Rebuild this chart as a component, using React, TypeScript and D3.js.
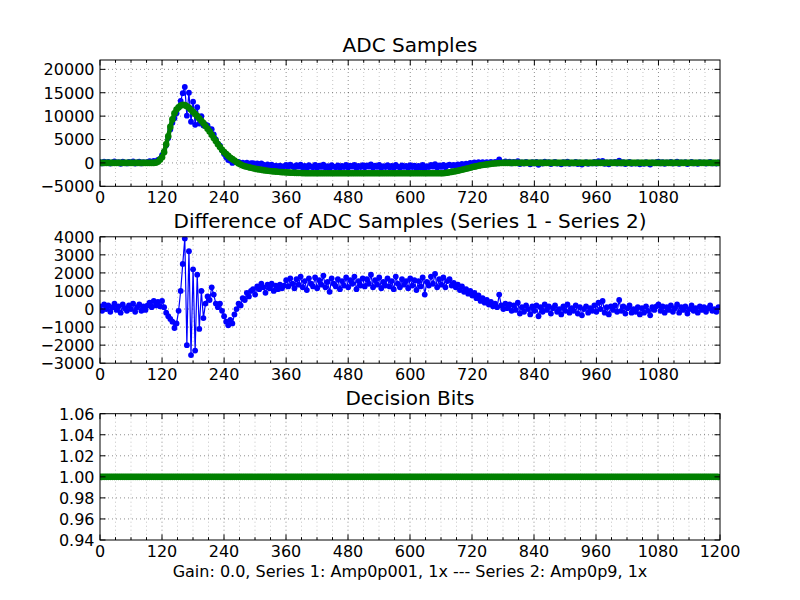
import { useEffect, useRef } from 'react';
import * as d3 from 'd3';

// readings taken off the figure every 4 samples (sample index = i * 4)
const SAMPLE_STEP = 4;

// smooth series (green), ADC counts
const SERIES_2 = [
  0, 0, 0, 0, 0, 0, 0, 0, 0, 0, 0, 0, 0, 0, 0, 0, 0, 0, 0, 0, 0, 0, 0, 0, 0, 0, 0, 60, 250, 700,
  1200, 2300, 4000, 5700, 7700, 9300, 10600, 11400, 11900, 12250, 12400, 12350, 12100, 11800, 11350, 10900, 10450, 10000, 9500, 9000, 8500, 7900, 7300, 6700, 6000, 5300, 4700, 4000, 3400, 2800,
  2300, 1900, 1500, 1100, 800, 500, 200, -100, -350, -550, -700, -830, -950, -1050, -1150, -1250, -1330, -1410, -1480, -1550, -1610, -1670, -1720, -1770, -1820, -1860, -1900, -1940, -1970, -2000,
  -2030, -2060, -2080, -2100, -2120, -2140, -2160, -2170, -2180, -2190, -2200, -2200, -2200, -2200, -2200, -2200, -2200, -2200, -2200, -2200, -2200, -2200, -2200, -2200, -2200, -2200, -2200, -2200, -2200, -2200,
  -2200, -2200, -2200, -2200, -2200, -2200, -2200, -2200, -2200, -2200, -2200, -2200, -2200, -2200, -2200, -2200, -2200, -2200, -2200, -2200, -2200, -2200, -2200, -2200, -2200, -2200, -2200, -2200, -2200, -2200,
  -2200, -2200, -2200, -2200, -2200, -2200, -2200, -2200, -2200, -2200, -2200, -2200, -2200, -2200, -2200, -2200, -2200, -2150, -2080, -2000, -1920, -1850, -1760, -1670, -1570, -1470, -1370, -1250, -1130, -1020,
  -900, -800, -700, -600, -520, -450, -380, -320, -260, -200, -150, -110, -70, -40, -20, 0, 0, 0, 0, 0, 0, 0, 0, 0, 0, 0, 0, 0, 0, 0,
  0, 0, 0, 0, 0, 0, 0, 0, 0, 0, 0, 0, 0, 0, 0, 0, 0, 0, 0, 0, 0, 0, 0, 0, 0, 0, 0, 0, 0, 0,
  0, 0, 0, 0, 0, 0, 0, 0, 0, 0, 0, 0, 0, 0, 0, 0, 0, 0, 0, 0, 0, 0, 0, 0, 0, 0, 0, 0, 0, 0,
  0, 0, 0, 0, 0, 0, 0, 0, 0, 0, 0, 0, 0, 0, 0, 0, 0, 0, 0, 0, 0, 0, 0, 0, 0, 0, 0, 0, 0, 0,
];

// Series 1 - Series 2 (blue, middle panel)
const DIFFERENCE = [
  150, -100, 250, 0, 200, -150, 100, 300, -50, 150, -200, 250, 50, -100, 200, 0, 300, -150, 100, 250, -100, 150, -50, 200, 350, 100, 450, 200, 400, 150,
  450, 100, -200, -400, -550, -700, -1050, -800, -100, 1000, 2500, 3900, -2000, 3200, -2550, 2200, -2300, 1900, -1100, 1000, -500, 300, 700, 500, 1200, 800, 300, 100, 300, -100,
  -400, -700, -900, -600, -800, -300, 0, 300, 200, 600, 500, 900, 700, 1000, 1100, 800, 1250, 1100, 1400, 1200, 900, 1350, 1150, 1400, 1000, 1300, 1100, 1350, 1150, 1300,
  1600, 1250, 1700, 1400, 1150, 1650, 1350, 1800, 1200, 1550, 1050, 1700, 1400, 1250, 1750, 1150, 1600, 1350, 1850, 1200, 1500, 950, 1700, 1400, 1250, 1650, 1100, 1550, 1300, 1750,
  1200, 1600, 1400, 1800, 1100, 1550, 1300, 1700, 1250, 1650, 1400, 1900, 1200, 1600, 1350, 1750, 1150, 1500, 1300, 1700, 1250, 1550, 1100, 1800, 1400, 1200, 1650, 1350, 1550, 1150,
  1700, 1300, 1600, 1050, 1550, 1250, 1750, 800, 1500, 1300, 1800, 1400, 1950, 1200, 1650, 1350, 1750, 1200, 1550, 1650, 1300, 1450, 1200, 1350, 1050, 1250, 950, 1100, 850, 1000,
  750, 900, 600, 750, 450, 600, 350, 500, 250, 400, 150, 300, 100, 800, 200, 0, 300, 50, 250, -100, 200, -50, 350, -250, 100, -150, 200, 0, -300, 150,
  -100, 200, -400, 100, -150, 250, -50, 150, -250, 50, 200, -150, 0, -300, 150, -100, 250, -200, 50, -100, 200, -250, 100, -350, 0, 150, -200, 50, -100, 200,
  -150, 350, 0, 450, -200, 100, -300, 150, -50, 200, -150, 500, -100, 150, -250, 50, 200, -200, 0, -150, 100, -300, 50, -200, 150, -100, -350, 100, -50, 150,
  250, -100, 150, -200, 100, -50, 200, -150, 50, 250, -200, 100, -50, 150, -250, 0, 200, -100, 50, -200, 150, -50, 100, -150, 50, 200, -100, 0, -150, 100,
];

// Series 1 is Series 2 plus the plotted difference
const SERIES_1 = SERIES_2.map((v, i) => v + DIFFERENCE[i]);

const DECISION_BITS = [
  1, 1, 1, 1, 1, 1, 1, 1, 1, 1, 1, 1, 1, 1, 1, 1, 1, 1, 1, 1, 1, 1, 1, 1, 1, 1, 1, 1, 1, 1,
  1, 1, 1, 1, 1, 1, 1, 1, 1, 1, 1, 1, 1, 1, 1, 1, 1, 1, 1, 1, 1, 1, 1, 1, 1, 1, 1, 1, 1, 1,
  1, 1, 1, 1, 1, 1, 1, 1, 1, 1, 1, 1, 1, 1, 1, 1, 1, 1, 1, 1, 1, 1, 1, 1, 1, 1, 1, 1, 1, 1,
  1, 1, 1, 1, 1, 1, 1, 1, 1, 1, 1, 1, 1, 1, 1, 1, 1, 1, 1, 1, 1, 1, 1, 1, 1, 1, 1, 1, 1, 1,
  1, 1, 1, 1, 1, 1, 1, 1, 1, 1, 1, 1, 1, 1, 1, 1, 1, 1, 1, 1, 1, 1, 1, 1, 1, 1, 1, 1, 1, 1,
  1, 1, 1, 1, 1, 1, 1, 1, 1, 1, 1, 1, 1, 1, 1, 1, 1, 1, 1, 1, 1, 1, 1, 1, 1, 1, 1, 1, 1, 1,
  1, 1, 1, 1, 1, 1, 1, 1, 1, 1, 1, 1, 1, 1, 1, 1, 1, 1, 1, 1, 1, 1, 1, 1, 1, 1, 1, 1, 1, 1,
  1, 1, 1, 1, 1, 1, 1, 1, 1, 1, 1, 1, 1, 1, 1, 1, 1, 1, 1, 1, 1, 1, 1, 1, 1, 1, 1, 1, 1, 1,
  1, 1, 1, 1, 1, 1, 1, 1, 1, 1, 1, 1, 1, 1, 1, 1, 1, 1, 1, 1, 1, 1, 1, 1, 1, 1, 1, 1, 1, 1,
  1, 1, 1, 1, 1, 1, 1, 1, 1, 1, 1, 1, 1, 1, 1, 1, 1, 1, 1, 1, 1, 1, 1, 1, 1, 1, 1, 1, 1, 1,
];

const X_TICKS = [0, 120, 240, 360, 480, 600, 720, 840, 960, 1080];
const X_TICKS_BOTTOM = [0, 120, 240, 360, 480, 600, 720, 840, 960, 1080, 1200];
const Y_TICKS_ADC = [-5000, 0, 5000, 10000, 15000, 20000];
const Y_TICKS_DIFF = [-3000, -2000, -1000, 0, 1000, 2000, 3000, 4000];
const Y_TICKS_BITS = [0.94, 0.96, 0.98, 1.0, 1.02, 1.04, 1.06];

const TITLES = ['ADC Samples', 'Difference of ADC Samples (Series 1 - Series 2)', 'Decision Bits'];
const X_LABEL = 'Gain: 0.0, Series 1: Amp0p001, 1x --- Series 2: Amp0p9, 1x';

const FONT = '"DejaVu Sans", sans-serif';
const LEFT = 100;
const RIGHT = 720;

type Series = { values: number[]; color: string; r: number; width: number };

export default function App() {
  const svgRef = useRef<SVGSVGElement>(null);

  useEffect(() => {
    if (!svgRef.current) return;
    const svg = d3.select(svgRef.current);
    svg.selectAll('*').remove();

    const drawPanel = (
      key: string,
      top: number,
      bottom: number,
      xMax: number,
      xTicks: number[],
      yDomain: [number, number],
      yTicks: number[],
      yFormat: (v: number) => string,
      title: string,
      series: Series[]
    ) => {
      const x = d3.scaleLinear().domain([0, xMax]).range([LEFT, RIGHT]);
      const y = d3.scaleLinear().domain(yDomain).range([bottom, top]);
      const g = svg.append('g');

      g.append('clipPath')
        .attr('id', `clip-${key}`)
        .append('rect')
        .attr('x', LEFT)
        .attr('y', top)
        .attr('width', RIGHT - LEFT)
        .attr('height', bottom - top);

      // grid: minor verticals every 30 samples, horizontals at major y ticks
      const minor = d3.range(0, xMax + 1, 30).filter((v) => v > 0 && v < xMax);
      g.selectAll('.vgrid')
        .data(minor)
        .join('line')
        .attr('x1', (d) => x(d))
        .attr('x2', (d) => x(d))
        .attr('y1', top)
        .attr('y2', bottom)
        .attr('stroke', '#000')
        .attr('stroke-opacity', (d) => (d % 120 === 0 ? 0.75 : 0.4))
        .attr('stroke-width', 0.6)
        .attr('stroke-dasharray', '1,3');

      g.selectAll('.hgrid')
        .data(yTicks.filter((v) => v > yDomain[0] && v < yDomain[1]))
        .join('line')
        .attr('x1', LEFT)
        .attr('x2', RIGHT)
        .attr('y1', (d) => y(d))
        .attr('y2', (d) => y(d))
        .attr('stroke', '#000')
        .attr('stroke-opacity', 0.75)
        .attr('stroke-width', 0.6)
        .attr('stroke-dasharray', '1,3');

      // data
      const plot = g.append('g').attr('clip-path', `url(#clip-${key})`);
      series.forEach((s) => {
        const pts = s.values.map((v, i) => [i * SAMPLE_STEP, v] as [number, number]);
        const line = d3
          .line<[number, number]>()
          .x((d) => x(d[0]))
          .y((d) => y(d[1]));
        plot
          .append('path')
          .attr('d', line(pts))
          .attr('fill', 'none')
          .attr('stroke', s.color)
          .attr('stroke-width', s.width)
          .attr('stroke-linejoin', 'round');
        plot
          .append('g')
          .selectAll('circle')
          .data(pts)
          .join('circle')
          .attr('cx', (d) => x(d[0]))
          .attr('cy', (d) => y(d[1]))
          .attr('r', s.r)
          .attr('fill', s.color);
      });

      // ticks, inward on all four sides
      const tickG = g.append('g').attr('stroke', '#000').attr('stroke-width', 1);
      minor
        .filter((v) => v % 120 !== 0)
        .forEach((v) => {
          tickG.append('line').attr('x1', x(v)).attr('x2', x(v)).attr('y1', bottom).attr('y2', bottom - 2.8);
          tickG.append('line').attr('x1', x(v)).attr('x2', x(v)).attr('y1', top).attr('y2', top + 2.8);
        });
      xTicks.forEach((v) => {
        tickG.append('line').attr('x1', x(v)).attr('x2', x(v)).attr('y1', bottom).attr('y2', bottom - 5.5);
        tickG.append('line').attr('x1', x(v)).attr('x2', x(v)).attr('y1', top).attr('y2', top + 5.5);
      });
      yTicks.forEach((v) => {
        tickG.append('line').attr('x1', LEFT).attr('x2', LEFT + 5.5).attr('y1', y(v)).attr('y2', y(v));
        tickG.append('line').attr('x1', RIGHT).attr('x2', RIGHT - 5.5).attr('y1', y(v)).attr('y2', y(v));
      });

      g.append('rect')
        .attr('x', LEFT)
        .attr('y', top)
        .attr('width', RIGHT - LEFT)
        .attr('height', bottom - top)
        .attr('fill', 'none')
        .attr('stroke', '#000')
        .attr('stroke-width', 1);

      // tick labels
      g.selectAll('.xlab')
        .data(xTicks)
        .join('text')
        .attr('x', (d) => x(d))
        .attr('y', bottom + 17)
        .attr('text-anchor', 'middle')
        .style('font-family', FONT)
        .style('font-size', '16px')
        .text((d) => String(d));

      g.selectAll('.ylab')
        .data(yTicks)
        .join('text')
        .attr('x', LEFT - 5.5)
        .attr('y', (d) => y(d) + 5.8)
        .attr('text-anchor', 'end')
        .style('font-family', FONT)
        .style('font-size', '16px')
        .text((d) => yFormat(d));

      g.append('text')
        .attr('x', (LEFT + RIGHT) / 2)
        .attr('y', top - 8.5)
        .attr('text-anchor', 'middle')
        .style('font-family', FONT)
        .style('font-size', '20px')
        .text(title);
    };

    const intFmt = (v: number) => (v < 0 ? '\u2212' + Math.abs(v) : String(v));

    drawPanel('adc', 60, 186.3, 1199, X_TICKS, [-5000, 22000], Y_TICKS_ADC, intFmt, TITLES[0], [
      { values: SERIES_1, color: '#0000ff', r: 2.9, width: 1.2 },
      { values: SERIES_2, color: '#008000', r: 3.3, width: 4.5 },
    ]);
    drawPanel('diff', 236.8, 363.2, 1199, X_TICKS, [-3000, 4000], Y_TICKS_DIFF, intFmt, TITLES[1], [
      { values: DIFFERENCE, color: '#0000ff', r: 2.9, width: 1.2 },
    ]);
    drawPanel('bits', 413.7, 540, 1200, X_TICKS_BOTTOM, [0.94, 1.06], Y_TICKS_BITS, d3.format('.2f'), TITLES[2], [
      { values: DECISION_BITS, color: '#008000', r: 3.3, width: 4.5 },
    ]);

    svg
      .append('text')
      .attr('x', (LEFT + RIGHT) / 2)
      .attr('y', 577)
      .attr('text-anchor', 'middle')
      .style('font-family', FONT)
      .style('font-size', '16px')
      .text(X_LABEL);
  }, []);

  return (
    <svg
      ref={svgRef}
      width={800}
      height={600}
      style={{ position: 'absolute', left: 0, top: 0, background: '#fff' }}
    />
  );
}
